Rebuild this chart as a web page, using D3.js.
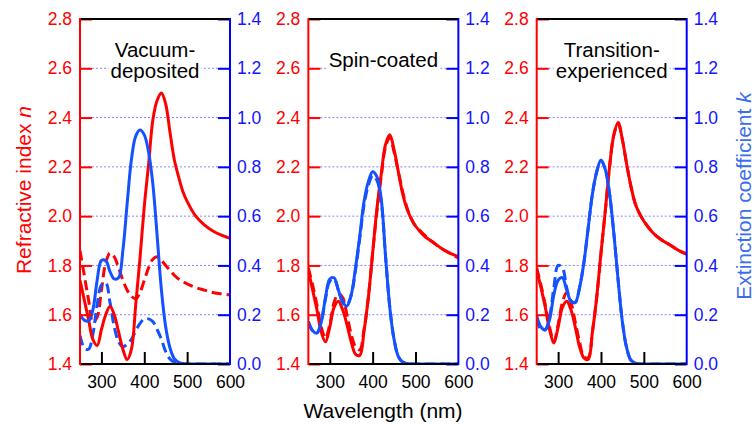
<!DOCTYPE html>
<html>
<head>
<meta charset="utf-8">
<script src="https://cdn.jsdelivr.net/npm/d3@7"></script>
<style>
  body { margin: 0; background: #fff; }
  svg { display: block; }
  text { font-family: "Liberation Sans", Arial, Helvetica, sans-serif; }
</style>
</head>
<body>
<svg id="chart" width="755" height="427"></svg>
<script>
// Wavelength grid (nm) shared by every series
const wavelength = [250,260,270,280,290,300,310,320,330,340,350,360,370,380,390,400,410,420,430,440,450,460,470,480,490,500,520,540,560,580,600];

// Vacuum-deposited film
const vacuumN       = [1.74,1.66,1.58,1.50,1.475,1.54,1.60,1.633,1.60,1.53,1.46,1.418,1.46,1.64,1.83,2.04,2.21,2.39,2.47,2.50,2.455,2.34,2.23,2.16,2.10,2.06,2.00,1.965,1.94,1.923,1.91];
const vacuumNDashed = [1.86,1.76,1.66,1.57,1.59,1.70,1.81,1.85,1.835,1.79,1.74,1.70,1.675,1.665,1.69,1.74,1.79,1.825,1.835,1.82,1.80,1.78,1.76,1.745,1.735,1.725,1.71,1.70,1.69,1.685,1.68];
const vacuumK       = [0.20,0.178,0.175,0.22,0.34,0.42,0.42,0.375,0.345,0.35,0.46,0.65,0.83,0.925,0.95,0.93,0.86,0.73,0.52,0.30,0.15,0.065,0.022,0.007,0.002,0,0,0,0,0,0];
const vacuumKDashed = [0.115,0.065,0.06,0.12,0.24,0.32,0.33,0.25,0.15,0.09,0.07,0.08,0.10,0.135,0.165,0.183,0.183,0.172,0.14,0.10,0.05,0.02,0.007,0.002,0,0,0,0,0,0,0];

// Spin-coated film
const spinN       = [1.78,1.70,1.62,1.53,1.49,1.55,1.63,1.655,1.62,1.56,1.49,1.44,1.435,1.535,1.67,1.85,2.03,2.17,2.29,2.33,2.27,2.18,2.09,2.03,1.99,1.96,1.92,1.895,1.87,1.85,1.836];
const spinNDashed = [1.79,1.72,1.64,1.55,1.505,1.56,1.65,1.685,1.67,1.60,1.52,1.47,1.458,1.54,1.67,1.85,2.02,2.16,2.28,2.32,2.26,2.18,2.10,2.035,1.99,1.96,1.925,1.895,1.87,1.85,1.83];
const spinK       = [0.172,0.135,0.125,0.17,0.27,0.345,0.35,0.30,0.25,0.235,0.28,0.39,0.52,0.66,0.74,0.78,0.76,0.67,0.44,0.23,0.10,0.03,0.008,0.002,0,0,0,0,0,0,0];
const spinKDashed = [0.17,0.135,0.127,0.17,0.265,0.335,0.345,0.30,0.255,0.24,0.28,0.38,0.51,0.645,0.725,0.765,0.745,0.66,0.44,0.23,0.10,0.03,0.008,0.002,0,0,0,0,0,0,0];

// Transition-experienced film
const transN       = [1.78,1.71,1.63,1.54,1.485,1.55,1.63,1.655,1.62,1.55,1.47,1.425,1.418,1.53,1.67,1.85,2.02,2.20,2.33,2.38,2.31,2.21,2.12,2.05,2.01,1.98,1.935,1.905,1.884,1.862,1.846];
const transNDashed = [1.79,1.72,1.64,1.55,1.49,1.56,1.65,1.69,1.65,1.57,1.49,1.43,1.425,1.53,1.67,1.85,2.02,2.20,2.33,2.375,2.31,2.21,2.12,2.05,2.01,1.98,1.935,1.905,1.884,1.862,1.846];
const transK       = [0.195,0.15,0.138,0.18,0.28,0.34,0.35,0.30,0.255,0.25,0.31,0.41,0.55,0.69,0.78,0.828,0.79,0.69,0.53,0.34,0.17,0.065,0.015,0.004,0,0,0,0,0,0,0];
const transKDashed = [0.185,0.14,0.14,0.19,0.31,0.40,0.39,0.31,0.255,0.25,0.31,0.41,0.55,0.69,0.78,0.825,0.79,0.69,0.53,0.34,0.17,0.065,0.015,0.004,0,0,0,0,0,0,0];

// Axis ticks
const nTicks = [1.4,1.6,1.8,2.0,2.2,2.4,2.6,2.8];
const kTicks = [0.0,0.2,0.4,0.6,0.8,1.0,1.2,1.4];
const gridValues = [1.6,1.8,2.0,2.2,2.4,2.6];
const wlTicks = [300,400,500,600];

const panels = [
  { title: ["Vacuum-", "deposited"], n: vacuumN, nd: vacuumNDashed, k: vacuumK, kd: vacuumKDashed },
  { title: ["Spin-coated"],          n: spinN,   nd: spinNDashed,   k: spinK,   kd: spinKDashed },
  { title: ["Transition-", "experienced"], n: transN, nd: transNDashed, k: transK, kd: transKDashed }
];

const RED = "#ff0000", BLUE_AXIS = "#0000ff", BLUE_LABEL = "#1414ff", BLUE_LINE = "#1452ff", BLUE_TITLE = "#3a6df0";
const plotTop = 19, plotBottom = 364, panelW = 150, firstLeft = 80, panelStep = 228.35;

const svg = d3.select("#chart");
const yN = d3.scaleLinear().domain([1.4, 2.8]).range([plotBottom, plotTop]);
const yK = d3.scaleLinear().domain([0, 1.4]).range([plotBottom, plotTop]);

panels.forEach((p, i) => {
  const x0 = firstLeft + i * panelStep, x1 = x0 + panelW;
  const x = d3.scaleLinear().domain([250, 600]).range([x0, x1]);
  const g = svg.append("g");

  // dotted horizontal grid
  g.selectAll("line.grid").data(gridValues).join("line")
    .attr("class", "grid")
    .attr("x1", x0).attr("x2", x1)
    .attr("y1", d => yN(d)).attr("y2", d => yN(d))
    .attr("stroke", "#8585ff").attr("stroke-width", 1)
    .attr("stroke-dasharray", "2,2");

  // panel title on a white box
  const cx = (x0 + x1) / 2;
  const baselines = p.title.length === 2 ? [57, 78] : [67];
  const titleG = g.append("g");
  p.title.forEach((t, j) => {
    const txt = titleG.append("text").attr("x", cx).attr("y", baselines[j])
      .attr("text-anchor", "middle").attr("font-size", "20.5px").attr("fill", "#000").text(t);
    const bb = txt.node().getBBox();
    titleG.insert("rect", "text").attr("x", bb.x - 2).attr("y", bb.y).attr("width", bb.width + 4)
      .attr("height", bb.height).attr("fill", "#fff");
  });

  // curves
  const clipId = "clip" + i;
  svg.append("clipPath").attr("id", clipId).append("rect")
    .attr("x", x0).attr("y", plotTop).attr("width", panelW).attr("height", plotBottom - plotTop);
  const curves = g.append("g").attr("clip-path", `url(#${clipId})`);
  const lineN = d3.line().x((d, j) => x(wavelength[j])).y(d => yN(d)).curve(d3.curveCatmullRom.alpha(0.5));
  const lineK = d3.line().x((d, j) => x(wavelength[j])).y(d => yK(d)).curve(d3.curveCatmullRom.alpha(0.5));
  const series = [
    { d: p.nd, line: lineN, color: RED, dash: "10,5" },
    { d: p.kd, line: lineK, color: BLUE_LINE, dash: "10,5" },
    { d: p.n,  line: lineN, color: RED, dash: null },
    { d: p.k,  line: lineK, color: BLUE_LINE, dash: null }
  ];
  series.forEach(s => {
    curves.append("path").attr("d", s.line(s.d)).attr("fill", "none")
      .attr("stroke", s.color).attr("stroke-width", 3)
      .attr("stroke-linejoin", "round")
      .attr("stroke-dasharray", s.dash);
  });

  // left axis (n)
  const ax = g.append("g").attr("transform", `translate(${x0},0)`)
    .call(d3.axisLeft(yN).tickValues(nTicks).tickFormat(d3.format(".1f")).tickSizeInner(-12).tickSizeOuter(0).tickPadding(8));
  ax.select(".domain").remove();
  ax.selectAll("line").attr("stroke", RED).attr("stroke-width", 2);
  ax.selectAll("text").attr("fill", RED).attr("font-size", "17.5px");
  ax.attr("font-family", null);

  // right axis (k)
  const axR = g.append("g").attr("transform", `translate(${x1},0)`)
    .call(d3.axisRight(yK).tickValues(kTicks).tickFormat(d3.format(".1f")).tickSizeInner(-12).tickSizeOuter(0).tickPadding(7));
  axR.select(".domain").remove();
  axR.selectAll("line").attr("stroke", BLUE_AXIS).attr("stroke-width", 2);
  axR.selectAll("text").attr("fill", BLUE_LABEL).attr("font-size", "17.5px");
  axR.attr("font-family", null);

  // bottom axis (wavelength)
  const axB = g.append("g").attr("transform", `translate(0,${plotBottom})`)
    .call(d3.axisBottom(x).tickValues(wlTicks).tickSizeInner(-12).tickSizeOuter(0).tickPadding(12));
  axB.select(".domain").remove();
  axB.selectAll("line").attr("stroke", "#000").attr("stroke-width", 2)
    .filter(d => d === 600).remove();
  axB.selectAll("text").attr("fill", "#000").attr("font-size", "17.5px");
  axB.attr("font-family", null);

  // frame
  g.append("line").attr("x1", x0).attr("x2", x1).attr("y1", plotTop).attr("y2", plotTop).attr("stroke", "#000").attr("stroke-width", 2);
  g.append("line").attr("x1", x0).attr("x2", x1).attr("y1", plotBottom).attr("y2", plotBottom).attr("stroke", "#000").attr("stroke-width", 2);
  g.append("line").attr("x1", x0).attr("x2", x0).attr("y1", plotTop - 1).attr("y2", plotBottom + 1).attr("stroke", RED).attr("stroke-width", 2);
  g.append("line").attr("x1", x1).attr("x2", x1).attr("y1", plotTop - 1).attr("y2", plotBottom + 1).attr("stroke", BLUE_AXIS).attr("stroke-width", 2);
});

// axis titles
const tN = svg.append("text").attr("transform", "translate(30.5,190) rotate(-90)")
  .attr("text-anchor", "middle").attr("font-size", "21px").attr("fill", RED);
tN.append("tspan").text("Refractive index ");
tN.append("tspan").attr("font-style", "italic").text("n");

const tK = svg.append("text").attr("transform", "translate(750.5,196) rotate(-90)")
  .attr("text-anchor", "middle").attr("font-size", "21px").attr("fill", BLUE_TITLE);
tK.append("tspan").text("Extinction coefficient ");
tK.append("tspan").attr("font-style", "italic").text("k");

svg.append("text").attr("x", 383).attr("y", 418).attr("text-anchor", "middle")
  .attr("font-size", "21px").attr("fill", "#000").text("Wavelength (nm)");
</script>
</body>
</html>
